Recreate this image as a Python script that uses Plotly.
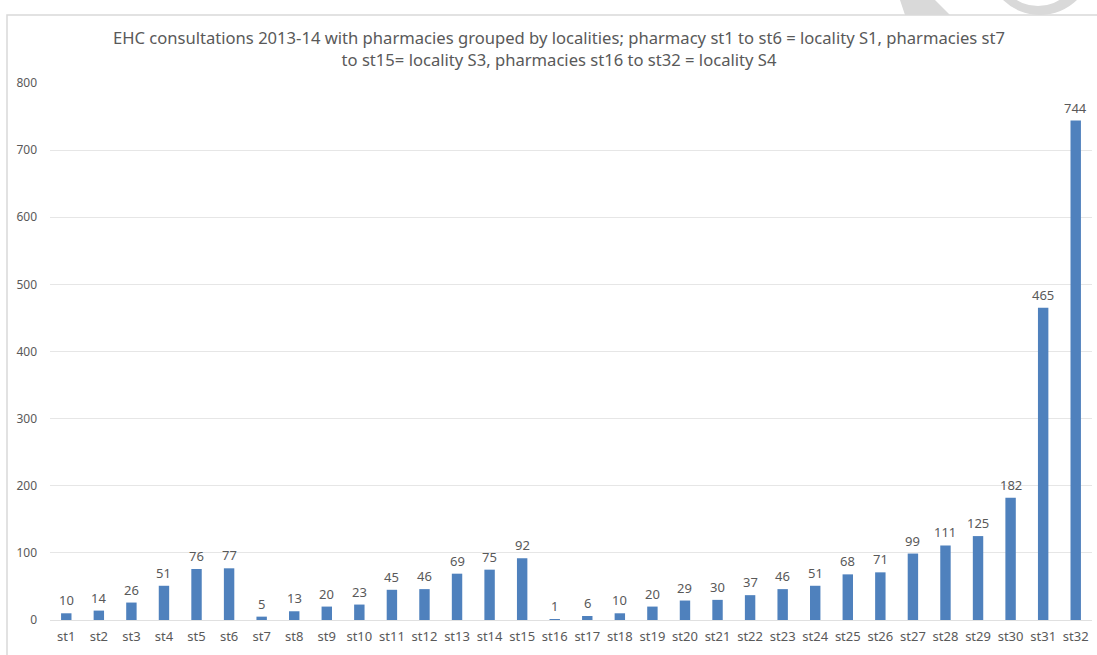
import plotly.graph_objects as go

# EHC consultation counts per pharmacy, 2013-14
pharmacies = [f"st{i}" for i in range(1, 33)]
consultations = [10, 14, 26, 51, 76, 77, 5, 13, 20, 23, 45, 46, 69, 75, 92,
                 1, 6, 10, 20, 29, 30, 37, 46, 51, 68, 71, 99, 111, 125, 182, 465, 744]
y_ticks = [0, 100, 200, 300, 400, 500, 600, 700, 800]

W, H = 1097, 655
L, R, T, B = 50, 5, 83, 35
PW, PH = W - L - R, H - T - B


def px(x):
    return (x - L) / PW


def py(y):
    return (H - B - y) / PH


TEXT = "#595959"
FONT = "Noto Sans"

fig = go.Figure(
    go.Bar(
        x=pharmacies,
        y=consultations,
        marker=dict(color="#4f81bd", line=dict(width=0)),
        hoverinfo="x+y",
    )
)

# value labels sitting just above each bar
annotations = [
    dict(x=name, y=val, xref="x", yref="y", text=str(val), showarrow=False,
         yanchor="middle", yshift=13,
         font=dict(family=FONT, size=13, color=TEXT))
    for name, val in zip(pharmacies, consultations)
]

shapes = [
    # faint watermark fragments at the top edge
    dict(type="path", xref="paper", yref="paper", layer="below",
         path=f"M {px(900)} {py(0)} L {px(935)} {py(0)} L {px(950)} {py(15)} L {px(905)} {py(15)} Z",
         fillcolor="#d9d9d9", line=dict(width=0)),
    dict(type="circle", xref="paper", yref="paper", layer="below",
         x0=px(1040 - 53), x1=px(1040 + 53), y0=py(-38 - 53), y1=py(-38 + 53),
         fillcolor="#d9d9d9", line=dict(width=0)),
    dict(type="circle", xref="paper", yref="paper", layer="below",
         x0=px(1038 - 41), x1=px(1038 + 41), y0=py(-35 - 41), y1=py(-35 + 41),
         fillcolor="white", line=dict(width=0)),
    # chart frame
    dict(type="rect", xref="paper", yref="paper", layer="below",
         x0=px(7), x1=px(1110), y0=py(15), y1=py(670),
         fillcolor="rgba(0,0,0,0)", line=dict(color="#d9d9d9", width=1.5)),
]

fig.update_layout(
    width=W, height=H,
    margin=dict(l=L, r=R, t=T, b=B),
    paper_bgcolor="white",
    plot_bgcolor="white",
    bargap=0.68,
    showlegend=False,
    shapes=shapes,
    annotations=annotations,
    title=dict(
        text=("EHC consultations 2013-14 with pharmacies grouped by localities; pharmacy st1 to st6 = locality S1, pharmacies st7"
              "<br>to st15= locality S3, pharmacies st16 to st32 = locality S4"),
        font=dict(family=FONT, size=16.6, color=TEXT),
        x=559 / W, xanchor="center", xref="container",
        y=1 - 44 / H, yanchor="top", yref="container",
    ),
    font=dict(family=FONT, color=TEXT),
    xaxis=dict(
        tickfont=dict(family=FONT, size=13, color=TEXT),
        showgrid=False, showline=False, ticks="",
        ticklabelstandoff=7,
    ),
    yaxis=dict(
        range=[0, 800],
        tickvals=y_ticks,
        tickfont=dict(family=FONT, size=12, color=TEXT),
        showgrid=True, gridcolor="#e6e6e6", gridwidth=1,
        zeroline=True, zerolinecolor="#e0e0e0", zerolinewidth=1,
        showline=False, ticks="",
        ticklabelstandoff=12,
    ),
)

fig.write_html("out.html")
